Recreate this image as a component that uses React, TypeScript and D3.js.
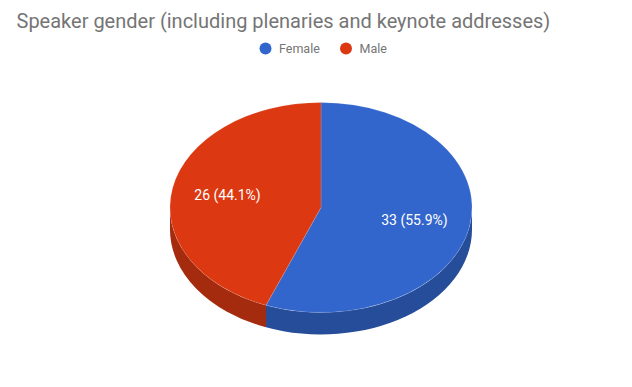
import React from "react";
import * as d3 from "d3";

const categories = ["Female", "Male"];
const values = [33, 26];
const colors = ["#3366cc", "#dc3912"];
const sideColors = ["#264d99", "#a52b0e"];
const title = "Speaker gender (including plenaries and keynote addresses)";

const W = 632;
const H = 387;
const cx = 321;
const cy = 207.5;
const rx = 151;
const ry = 105;
const depth = 22;
const labelFrac = 0.63;

function pt(a: number, dy = 0): [number, number] {
  return [cx + rx * Math.sin(a), cy - ry * Math.cos(a) + dy];
}

export default function App() {
  const pie = d3.pie<number>().sort(null).value((d) => d)(values);
  const total = d3.sum(values);
  const fmt = d3.format(".1f");

  const sides: { d: string; color: string }[] = [];
  pie.forEach((s, i) => {
    const s0 = Math.max(s.startAngle, Math.PI / 2);
    const s1 = Math.min(s.endAngle, (3 * Math.PI) / 2);
    if (s1 > s0) {
      const p0 = pt(s0);
      const p1 = pt(s1);
      const q1 = pt(s1, depth);
      const q0 = pt(s0, depth);
      const large = s1 - s0 > Math.PI ? 1 : 0;
      const d = `M${p0[0]},${p0[1]} A${rx},${ry} 0 ${large} 1 ${p1[0]},${p1[1]} L${q1[0]},${q1[1]} A${rx},${ry} 0 ${large} 0 ${q0[0]},${q0[1]} Z`;
      sides.push({ d, color: sideColors[i] });
    }
  });

  const tops = pie.map((s, i) => {
    const p0 = pt(s.startAngle);
    const p1 = pt(s.endAngle);
    const large = s.endAngle - s.startAngle > Math.PI ? 1 : 0;
    return {
      d: `M${cx},${cy} L${p0[0]},${p0[1]} A${rx},${ry} 0 ${large} 1 ${p1[0]},${p1[1]} Z`,
      color: colors[i],
    };
  });

  const labels = pie.map((s, i) => {
    const m = (s.startAngle + s.endAngle) / 2;
    return {
      x: cx + rx * labelFrac * Math.sin(m),
      y: cy - ry * labelFrac * Math.cos(m),
      text: `${values[i]} (${fmt((values[i] / total) * 100)}%)`,
    };
  });

  const legendX = [265.5, 346];

  return (
    <svg
      width={W}
      height={H}
      style={{ position: "absolute", left: 0, top: 0, background: "#fff" }}
      fontFamily="Roboto, 'Noto Sans', sans-serif"
    >
      <rect width={W} height={H} fill="#fff" />
      <text x={16.5} y={27.5} fontSize={20} fill="#757575">
        {title}
      </text>
      {categories.map((c, i) => (
        <g key={c}>
          <circle cx={legendX[i]} cy={48.5} r={6} fill={colors[i]} />
          <text x={legendX[i] + 13.5} y={53} fontSize={12.5} fill="#757575">
            {c}
          </text>
        </g>
      ))}
      {sides.map((s, i) => (
        <path key={"s" + i} d={s.d} fill={s.color} />
      ))}
      {tops.map((t, i) => (
        <path key={"t" + i} d={t.d} fill={t.color} stroke="#ffffff" strokeOpacity={0.25} strokeWidth={0.5} />
      ))}
      {labels.map((l, i) => (
        <text
          key={"l" + i}
          x={l.x}
          y={l.y}
          fontSize={14}
          fill="#ffffff"
          textAnchor="middle"
          dominantBaseline="central"
        >
          {l.text}
        </text>
      ))}
    </svg>
  );
}
